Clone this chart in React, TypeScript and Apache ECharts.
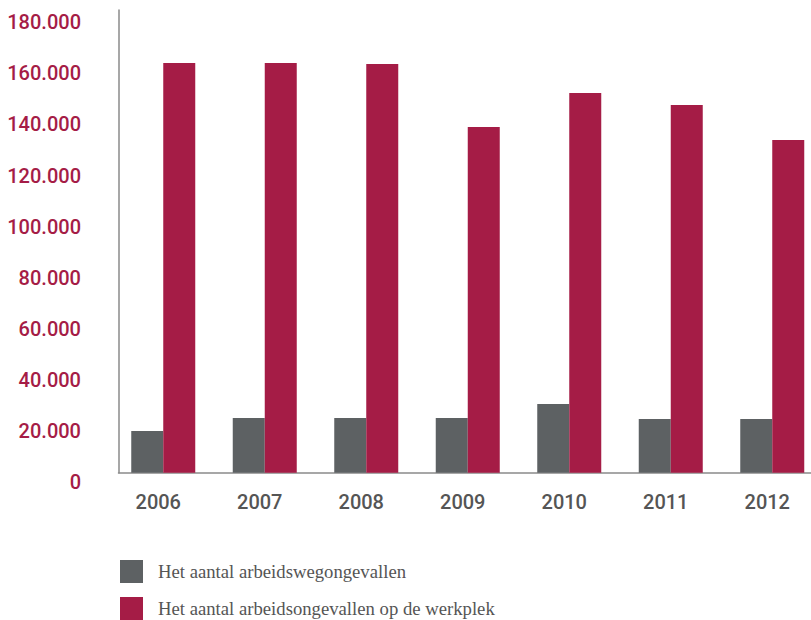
import React, { useEffect, useRef } from "react";
import * as echarts from "echarts";

const categories = ["2006", "2007", "2008", "2009", "2010", "2011", "2012"];
const wegongevallen = [16300, 21400, 21400, 21400, 26900, 21000, 21000];
const werkplek = [160300, 160300, 159900, 135300, 148600, 143900, 130200];
const seriesNames = [
  "Het aantal arbeidswegongevallen",
  "Het aantal arbeidsongevallen op de werkplek",
];

const GRAY = "#5d6163";
const CRIMSON = "#a51c46";
const AXIS = "#8a8a8a";

function fmt(v: number): string {
  if (v === 0) return "0";
  const k = Math.round(v / 1000);
  return k + ".000";
}

export default function App() {
  const ref = useRef<HTMLDivElement>(null);
  useEffect(() => {
    document.body.style.margin = "0";
    if (!ref.current) return;
    const chart = echarts.init(ref.current, undefined, { renderer: "svg" });
    chart.setOption({
      animation: false,
      backgroundColor: "#ffffff",
      grid: [
        { left: 112.5, top: 12.7, width: 710.5, height: 460, outerBoundsMode: "none", containLabel: false },
        { left: 118.5, top: 10, width: 700, height: 462.7, outerBoundsMode: "none", containLabel: false },
      ],
      legend: {
        orient: "vertical",
        left: 120,
        top: 560,
        height: 200,
        padding: 0,
        itemWidth: 23,
        itemHeight: 23,
        itemGap: 14,
        icon: "rect",
        selectedMode: false,
        textStyle: {
          fontFamily: "Liberation Serif",
          fontSize: 18.7,
          color: "#555555",
          padding: [0, 0, 0, 10],
        },
        data: seriesNames,
      },
      xAxis: [
        {
          type: "category",
          gridIndex: 0,
          data: categories,
          axisLine: { show: false },
          axisTick: { show: false },
          axisLabel: {
            margin: 19,
            fontFamily: "Roboto",
            fontWeight: 500,
            fontSize: 20,
            color: "#555555",
            padding: [0, 10, 0, 0],
          },
        },
        {
          type: "value",
          gridIndex: 1,
          min: 0,
          max: 1,
          axisLine: { show: true, onZero: false, lineStyle: { color: AXIS, width: 1.5 } },
          axisTick: { show: false },
          axisLabel: { show: false },
          splitLine: { show: false },
        },
      ],
      yAxis: [
        {
          type: "value",
          gridIndex: 0,
          min: 0,
          max: 180000,
          interval: 20000,
          axisLine: { show: false },
          axisTick: { show: false },
          splitLine: { show: false },
          axisLabel: {
            margin: 31.5,
            fontFamily: "Roboto",
            fontWeight: 500,
            fontSize: 20,
            color: CRIMSON,
            verticalAlign: "top",
            lineHeight: 19,
            formatter: fmt,
          },
        },
        {
          type: "value",
          gridIndex: 1,
          min: 0,
          max: 1,
          axisLine: { show: true, onZero: false, lineStyle: { color: AXIS, width: 1.5 } },
          axisTick: { show: false },
          axisLabel: { show: false },
          splitLine: { show: false },
        },
      ],
      series: [
        {
          name: seriesNames[0],
          type: "bar",
          xAxisIndex: 0,
          yAxisIndex: 0,
          data: wegongevallen,
          barWidth: 32,
          barGap: "0%",
          itemStyle: { color: GRAY },
        },
        {
          name: seriesNames[1],
          type: "bar",
          xAxisIndex: 0,
          yAxisIndex: 0,
          data: werkplek,
          barWidth: 32,
          barGap: "0%",
          itemStyle: { color: CRIMSON },
        },
      ],
    });
    return () => chart.dispose();
  }, []);
  return <div ref={ref} style={{ width: 811, height: 620 }} />;
}
